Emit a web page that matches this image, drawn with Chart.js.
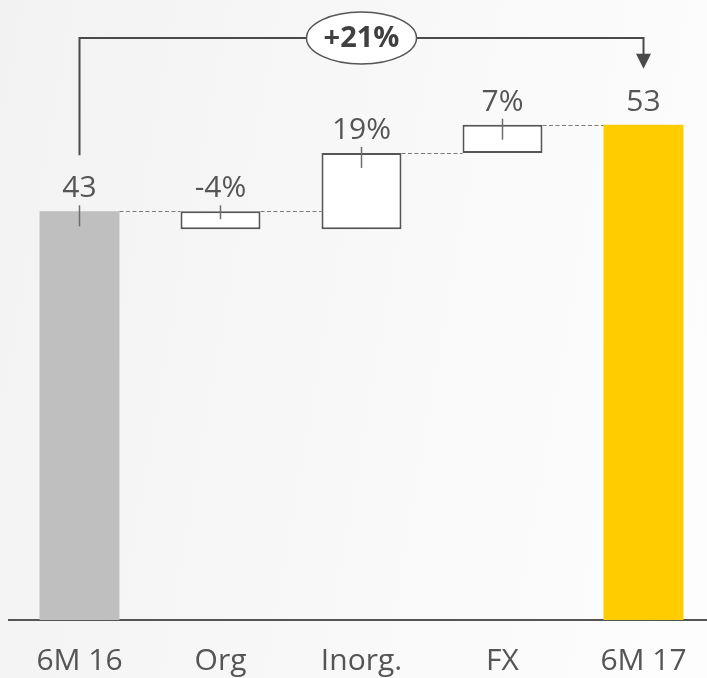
<!DOCTYPE html>
<html>
<head>
<meta charset="utf-8">
<script src="https://cdn.jsdelivr.net/npm/chart.js@4"></script>
<style>
  html, body { margin: 0; padding: 0; overflow: hidden; }
  body { width: 707px; height: 678px; background: linear-gradient(100deg, #f2f2f2 0%, #f8f8f8 50%, #fdfdfd 100%); }
  #wrap { position: absolute; left: 0; top: 0; width: 716px; height: 678px; }
</style>
</head>
<body>
<div id="wrap"><canvas id="grafico" width="716" height="678"></canvas></div>
<script>
// datos
const categorias = ['6M 16', 'Org', 'Inorg.', 'FX', '6M 17'];
const valorInicial = 43.4;
const cambios = [-1.9, 8.1, 3.0];
const valorFinal = 52.6;
const etiquetas = ['43', '-4%', '19%', '7%', '53'];
const crecimiento = '+21%';

const colores = ['#BFBFBF', '#FFFFFF', '#FFFFFF', '#FFFFFF', '#FFCC00'];
const bordes = [0, 2, 2, 2, 0];

// barras flotantes [inicio, fin]
let acumulado = valorInicial;
const barras = [[0, valorInicial]];
cambios.forEach(c => {
    barras.push([acumulado, acumulado + c]);
    acumulado += c;
});
barras.push([0, valorFinal]);

const gris = '#555555';

const cascada = {
    id: 'cascada',
    afterDatasetsDraw(chart) {
        const ctx = chart.ctx;
        const bars = chart.getDatasetMeta(0).data;
        ctx.save();

        // lineas punteadas entre barras
        ctx.strokeStyle = '#7a7a7a';
        ctx.lineWidth = 1.2;
        ctx.setLineDash([4, 2.5]);
        for (let i = 0; i < bars.length - 1; i++) {
            const a = bars[i], b = bars[i + 1];
            const y = Math.round(a.y) + 0.5;
            ctx.beginPath();
            ctx.moveTo(a.x + a.width / 2, y);
            ctx.lineTo(b.x - b.width / 2, y);
            ctx.stroke();
        }
        ctx.setLineDash([]);

        // marcas verticales
        ctx.strokeStyle = '#6d6d6d';
        ctx.lineWidth = 1.5;
        for (let i = 0; i < bars.length - 1; i++) {
            const b = bars[i];
            const top = Math.min(b.y, b.base);
            const h = Math.abs(b.base - b.y);
            ctx.beginPath();
            ctx.moveTo(b.x, top - 6);
            ctx.lineTo(b.x, top + Math.min(15, h - 10));
            ctx.stroke();
        }

        // etiquetas de valor
        ctx.fillStyle = gris;
        ctx.font = '30px "Open Sans"';
        ctx.textAlign = 'center';
        ctx.textBaseline = 'alphabetic';
        bars.forEach((b, i) => {
            const top = Math.min(b.y, b.base);
            ctx.fillText(etiquetas[i], b.x, top - 14);
        });

        // flecha de crecimiento
        const first = bars[0], last = bars[bars.length - 1];
        const yLinea = 38;
        ctx.strokeStyle = '#4a4a4a';
        ctx.lineWidth = 2;
        ctx.beginPath();
        ctx.moveTo(first.x, first.y - 56);
        ctx.lineTo(first.x, yLinea);
        ctx.lineTo(last.x, yLinea);
        ctx.lineTo(last.x, last.y - 70);
        ctx.stroke();
        ctx.fillStyle = '#4a4a4a';
        ctx.beginPath();
        ctx.moveTo(last.x - 7.5, last.y - 71);
        ctx.lineTo(last.x + 7.5, last.y - 71);
        ctx.lineTo(last.x, last.y - 56);
        ctx.closePath();
        ctx.fill();

        const cx = (first.x + last.x) / 2;
        ctx.fillStyle = '#FFFFFF';
        ctx.strokeStyle = gris;
        ctx.lineWidth = 1.5;
        ctx.beginPath();
        ctx.ellipse(cx, yLinea, 55, 26, 0, 0, Math.PI * 2);
        ctx.fill();
        ctx.stroke();
        ctx.fillStyle = '#404040';
        ctx.font = 'bold 29px "Open Sans"';
        ctx.textBaseline = 'middle';
        ctx.fillText(crecimiento, cx, yLinea + 1);

        ctx.restore();
    }
};

new Chart(document.getElementById('grafico').getContext('2d'), {
    type: 'bar',
    data: {
        labels: categorias,
        datasets: [{
            data: barras,
            backgroundColor: colores,
            borderColor: gris,
            borderWidth: bordes,
            borderSkipped: false,
            barPercentage: 1,
            categoryPercentage: 0.567
        }]
    },
    options: {
        responsive: false,
        animation: false,
        layout: { padding: { top: 55, left: 9, right: 2, bottom: 0 } },
        plugins: { legend: { display: false }, tooltip: { enabled: false } },
        scales: {
            x: {
                grid: { display: false, drawTicks: false },
                border: { display: true, color: gris, width: 2 },
                ticks: { color: gris, font: { family: 'Open Sans', size: 30 }, padding: 23 },
                afterFit(scale) { scale.height = 58; }
            },
            y: { display: false, min: 0, max: 60 }
        }
    },
    plugins: [cascada]
});
</script>
</body>
</html>
